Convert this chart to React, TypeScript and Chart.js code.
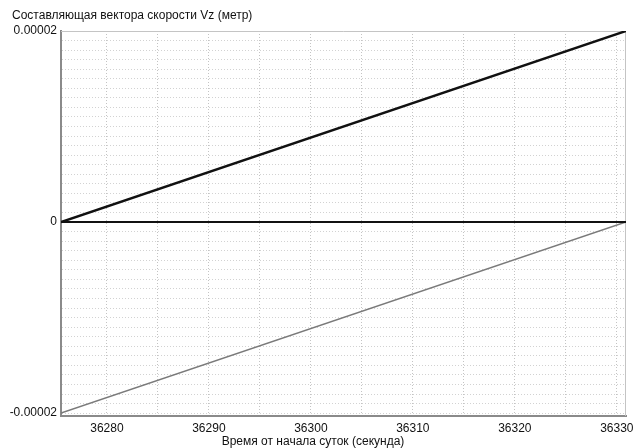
import React, { useEffect, useRef } from "react";
import { Chart, registerables } from "chart.js";

Chart.register(...registerables);

const chartTitle = "Составляющая вектора скорости Vz (метр)";
const xAxisTitle = "Время от начала суток (секунда)";

// time, seconds from start of day
const timeSec = [36275.5, 36330.9];
// Vz series
const vzUpper = [0, 0.00002];
const vzZero = [0, 0];
const vzLower = [-0.00002, 0];

const xMin = 36275.5;
const xMax = 36330.9;
const yMin = -0.0000203;
const yMax = 0.00002;

const xGridValues = [36280, 36285, 36290, 36295, 36300, 36305, 36310, 36315, 36320, 36325, 36330];
const xLabelValues = [36280, 36290, 36300, 36310, 36320, 36330];
const yLabelValues = [-0.00002, 0, 0.00002];
const yLabelTexts = ["-0.00002", "0", "0.00002"];
const yGridStep = 0.000001;

const FONT = '"Liberation Sans", Arial, sans-serif';

const toPoints = (xs: number[], ys: number[]) => xs.map((x, i) => ({ x, y: ys[i] }));

const textPlugin = {
  id: "textPlugin",
  beforeDatasetsDraw(chart: any) {
    const { ctx, chartArea } = chart;
    ctx.save();
    ctx.strokeStyle = "#c4c4c4";
    ctx.lineWidth = 1;
    ctx.beginPath();
    ctx.moveTo(chartArea.left, chartArea.top + 0.5);
    ctx.lineTo(chartArea.right - 0.5, chartArea.top + 0.5);
    ctx.lineTo(chartArea.right - 0.5, chartArea.bottom);
    ctx.stroke();
    ctx.restore();
  },
  afterDraw(chart: any) {
    const ctx = chart.ctx;
    ctx.save();
    ctx.font = `12px ${FONT}`;
    ctx.fillStyle = "#111";
    ctx.textBaseline = "alphabetic";
    ctx.textAlign = "left";
    ctx.fillText(chartTitle, 12, 19);
    ctx.textAlign = "center";
    ctx.fillText(xAxisTitle, 313, 445);
    ctx.restore();
  },
};

export default function App() {
  const ref = useRef<HTMLCanvasElement | null>(null);

  useEffect(() => {
    if (!ref.current) return;
    const chart = new Chart(ref.current, {
      type: "line",
      data: {
        datasets: [
          {
            label: "zero",
            data: toPoints(timeSec, vzZero),
            borderColor: "#111",
            borderWidth: 2,
            pointRadius: 0,
            tension: 0,
          },
          {
            label: "Vz lower",
            data: toPoints(timeSec, vzLower),
            borderColor: "#7a7a7a",
            borderWidth: 1.5,
            pointRadius: 0,
            tension: 0,
          },
          {
            label: "Vz upper",
            data: toPoints(timeSec, vzUpper),
            borderColor: "#111",
            borderWidth: 2.5,
            pointRadius: 0,
            tension: 0,
          },
        ],
      },
      options: {
        animation: false,
        responsive: false,
        devicePixelRatio: 1,
        layout: { padding: { top: 31, right: 16, left: 0, bottom: 0 } },
        plugins: {
          legend: { display: false },
          tooltip: { enabled: false },
          title: { display: false },
        },
        scales: {
          x: {
            type: "linear",
            min: xMin,
            max: xMax,
            afterBuildTicks: (scale: any) => {
              scale.ticks = xGridValues.map((v) => ({ value: v }));
            },
            afterFit: (scale: any) => {
              scale.height = 32;
            },
            ticks: {
              autoSkip: false,
              maxRotation: 0,
              padding: 5,
              color: "#111",
              font: { family: FONT, size: 12 },
              callback: (v: any) => (xLabelValues.includes(Number(v)) ? String(v) : ""),
            },
            grid: { color: "#c4c4c4", lineWidth: 1, drawTicks: false },
            border: { display: true, color: "#8a8a8a", width: 2, dash: [1, 2] },
          },
          y: {
            type: "linear",
            min: yMin,
            max: yMax,
            afterBuildTicks: (scale: any) => {
              const t: any[] = [];
              for (let i = -20; i <= 20; i++) t.push({ value: i * yGridStep });
              scale.ticks = t;
            },
            afterFit: (scale: any) => {
              scale.width = 61;
            },
            ticks: {
              autoSkip: false,
              padding: 4,
              color: "#111",
              font: { family: FONT, size: 12 },
              callback: (v: any) => {
                const n = Number(v);
                for (let i = 0; i < yLabelValues.length; i++) {
                  if (Math.abs(n - yLabelValues[i]) < 1e-10) return yLabelTexts[i];
                }
                return "";
              },
            },
            grid: { color: "#d2d2d2", lineWidth: 1, drawTicks: false },
            border: { display: true, color: "#8a8a8a", width: 2, dash: [1, 2] },
          },
        },
      } as any,
      plugins: [textPlugin],
    });
    return () => chart.destroy();
  }, []);

  return (
    <div style={{ position: "fixed", left: 0, top: 0, width: 642, height: 448, background: "#fff" }}>
      <canvas ref={ref} width={642} height={448} style={{ width: 642, height: 448, display: "block" }} />
    </div>
  );
}
